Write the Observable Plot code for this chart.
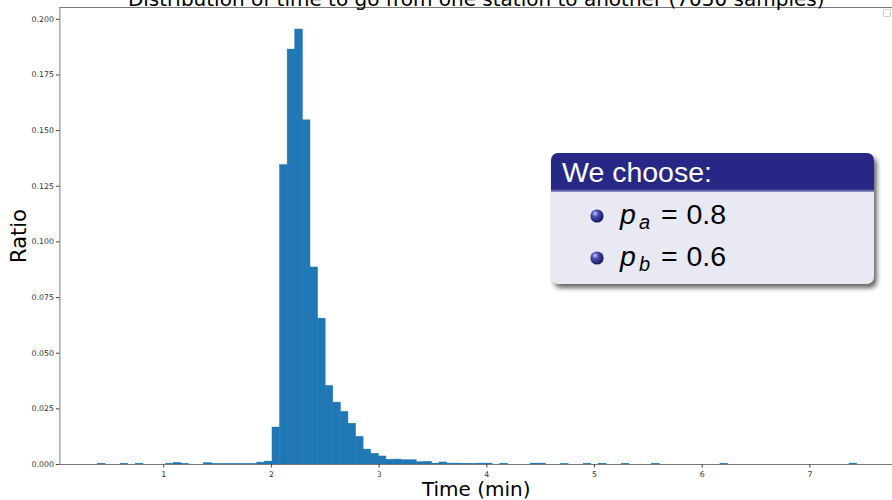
<!DOCTYPE html>
<html>
<head>
<meta charset="utf-8">
<script src="https://cdn.jsdelivr.net/npm/d3@7"></script>
<script src="https://cdn.jsdelivr.net/npm/@observablehq/plot@0.6"></script>
<style>
  html, body { margin: 0; padding: 0; background: #fff; }
  #wrap { position: relative; width: 892px; height: 500px; overflow: hidden; }
  #legendbox { position: absolute; left: 883px; top: 9px; width: 6px; height: 6px; border: 1px solid #cfcfcf; border-radius: 1px; background: #fff; }
</style>
</head>
<body>
<div id="wrap"><div id="legendbox"></div></div>
<script>
// ---- data ----
const titleText = "Distribution of time to go from one station to another (7050 samples)";
const xLabel = "Time (min)";
const yLabel = "Ratio";
const binStart = 0.3885;   // left edge of first bin (min)
const binWidth = 0.0705;   // bin width (min)
const ratios = [
  0.00028, 0, 0, 0.00028, 0, 0.00028, 0, 0, 0, 0.00028,
  0.00071, 0.00028, 0, 0, 0.00057, 0.00014, 0.00014, 0.00014, 0.00014, 0.00014,
  0.00014, 0.00085, 0.0013, 0.0166, 0.1345, 0.1864, 0.1954, 0.1546, 0.0885, 0.0655,
  0.0353, 0.0278, 0.0236, 0.0183, 0.0124, 0.0067, 0.0048, 0.0036, 0.0021, 0.0022,
  0.0019, 0.0019, 0.0010, 0.0012, 0.0004, 0.0009, 0.0004, 0.0004, 0.0003, 0.0003,
  0.0004, 0.0004, 0, 0.0003, 0, 0, 0, 0.0004, 0.0004, 0,
  0, 0.00014, 0, 0, 0.0003, 0, 0.0003, 0, 0, 0.00028,
  0, 0, 0, 0.00028, 0, 0, 0, 0, 0, 0,
  0, 0, 0.00028, 0, 0, 0, 0, 0, 0, 0,
  0, 0, 0, 0, 0, 0, 0, 0, 0, 0.0004
];
const xTicks = [1, 2, 3, 4, 5, 6, 7];
const yTicks = [0, 0.025, 0.05, 0.075, 0.1, 0.125, 0.15, 0.175, 0.2];
const xDomain = [0.036, 7.767];
const yDomain = [0, 0.2053];
const boxTitle = "We choose:";
const paramNames = ["p", "p"];
const paramSubs = ["a", "b"];
const paramValues = ["0.8", "0.6"];

// ---- table for the library ----
const bins = ratios.map((r, i) => ({
  x1: binStart + i * binWidth,
  x2: binStart + (i + 1) * binWidth,
  y: r
})).filter(d => d.y > 0);

const chart = Plot.plot({
  width: 892,
  height: 500,
  marginLeft: 59.4,
  marginRight: 0,
  marginTop: 7,
  marginBottom: 36,
  style: { fontFamily: "DejaVu Sans", background: "white", overflow: "visible" },
  x: { domain: xDomain },
  y: { domain: yDomain },
  marks: [
    Plot.rectY(bins, { x1: "x1", x2: "x2", y: "y", fill: "#1f77b4", stroke: "#1f77b4", strokeWidth: 0.5, inset: 0 }),
    Plot.ruleY([yDomain[0]], { stroke: "#7a7a7a" }),
    Plot.ruleY([yDomain[1]], { stroke: "#7a7a7a" }),
    Plot.ruleX([xDomain[0]], { stroke: "#7a7a7a" }),
    Plot.axisX(xTicks, {
      anchor: "bottom", tickSize: 3.5, tickPadding: 3, fontSize: 7.8,
      tickFormat: d => String(d), label: null, stroke: "#444", fill: "#333"
    }),
    Plot.axisY(yTicks, {
      anchor: "left", tickSize: 3.5, tickPadding: 2.5, fontSize: 7.8,
      tickFormat: d3.format(".3f"), label: null, stroke: "#444", fill: "#333"
    }),
    Plot.text([titleText], { frameAnchor: "top", dy: -2, lineAnchor: "bottom", fontSize: 20, fill: "#000" }),
    Plot.text([xLabel], { frameAnchor: "bottom", dy: 31.7, lineAnchor: "bottom", fontSize: 20, fill: "#000" }),
    Plot.text([yLabel], { frameAnchor: "left", dx: -41, rotate: -90, textAnchor: "middle", lineAnchor: "middle", fontSize: 21, fill: "#000" })
  ]
});

document.getElementById("wrap").prepend(chart);

// ---- annotation block (beamer-style) ----
const svg = d3.select(chart);
const defs = svg.append("defs");
const blur = defs.append("filter").attr("id", "blkshadow").attr("x", "-10%").attr("y", "-10%").attr("width", "130%").attr("height", "140%");
blur.append("feGaussianBlur").attr("stdDeviation", 2.6);
const clip = defs.append("clipPath").attr("id", "blkclip");
clip.append("rect").attr("x", 551).attr("y", 153).attr("width", 323).attr("height", 131).attr("rx", 7);
const ball = defs.append("radialGradient").attr("id", "ballgrad")
  .attr("cx", "0.38").attr("cy", "0.35").attr("r", "0.7").attr("fx", "0.35").attr("fy", "0.3");
ball.append("stop").attr("offset", "0%").attr("stop-color", "#c9ccf7");
ball.append("stop").attr("offset", "35%").attr("stop-color", "#4a4eb4");
ball.append("stop").attr("offset", "100%").attr("stop-color", "#12124e");
const hgrad = defs.append("linearGradient").attr("id", "hdrgrad").attr("x1", 0).attr("x2", 0).attr("y1", 0).attr("y2", 1);
hgrad.append("stop").attr("offset", "0%").attr("stop-color", "#272885");
hgrad.append("stop").attr("offset", "100%").attr("stop-color", "#9c9cc8");

const blk = svg.append("g").attr("class", "block").attr("text-anchor", "start");
blk.append("rect").attr("x", 554).attr("y", 157).attr("width", 323).attr("height", 131).attr("rx", 7)
  .attr("fill", "#000").attr("opacity", 0.6).attr("filter", "url(#blkshadow)");
const inner = blk.append("g").attr("clip-path", "url(#blkclip)");
inner.append("rect").attr("x", 551).attr("y", 153).attr("width", 323).attr("height", 131).attr("fill", "#e9e9f3");
inner.append("rect").attr("x", 551).attr("y", 153).attr("width", 323).attr("height", 36).attr("fill", "#272885");
inner.append("rect").attr("x", 551).attr("y", 189).attr("width", 323).attr("height", 3).attr("fill", "url(#hdrgrad)");
blk.append("text").attr("x", 562).attr("y", 182).attr("fill", "#fff").attr("text-anchor", "start")
  .style("font-family", "Liberation Sans, Arial, sans-serif").style("font-size", "28.5px").text(boxTitle);

paramNames.forEach((nm, i) => {
  const cy = 216 + i * 42;
  const base = 223.5 + i * 42;
  blk.append("circle").attr("cx", 597).attr("cy", cy).attr("r", 6.6).attr("fill", "url(#ballgrad)");
  const t = blk.append("text").attr("y", base).attr("fill", "#000").attr("text-anchor", "start")
    .style("font-family", "Liberation Sans, Arial, sans-serif").style("font-size", "28.5px");
  t.append("tspan").attr("x", 620).style("font-style", "italic").text(nm);
  t.append("tspan").attr("x", 639).attr("dy", 5).style("font-style", "italic").style("font-size", "20px").text(paramSubs[i]);
  t.append("tspan").attr("x", 661).attr("dy", -5).text("=");
  t.append("tspan").attr("x", 686.5).text(paramValues[i]);
});
</script>
</body>
</html>
